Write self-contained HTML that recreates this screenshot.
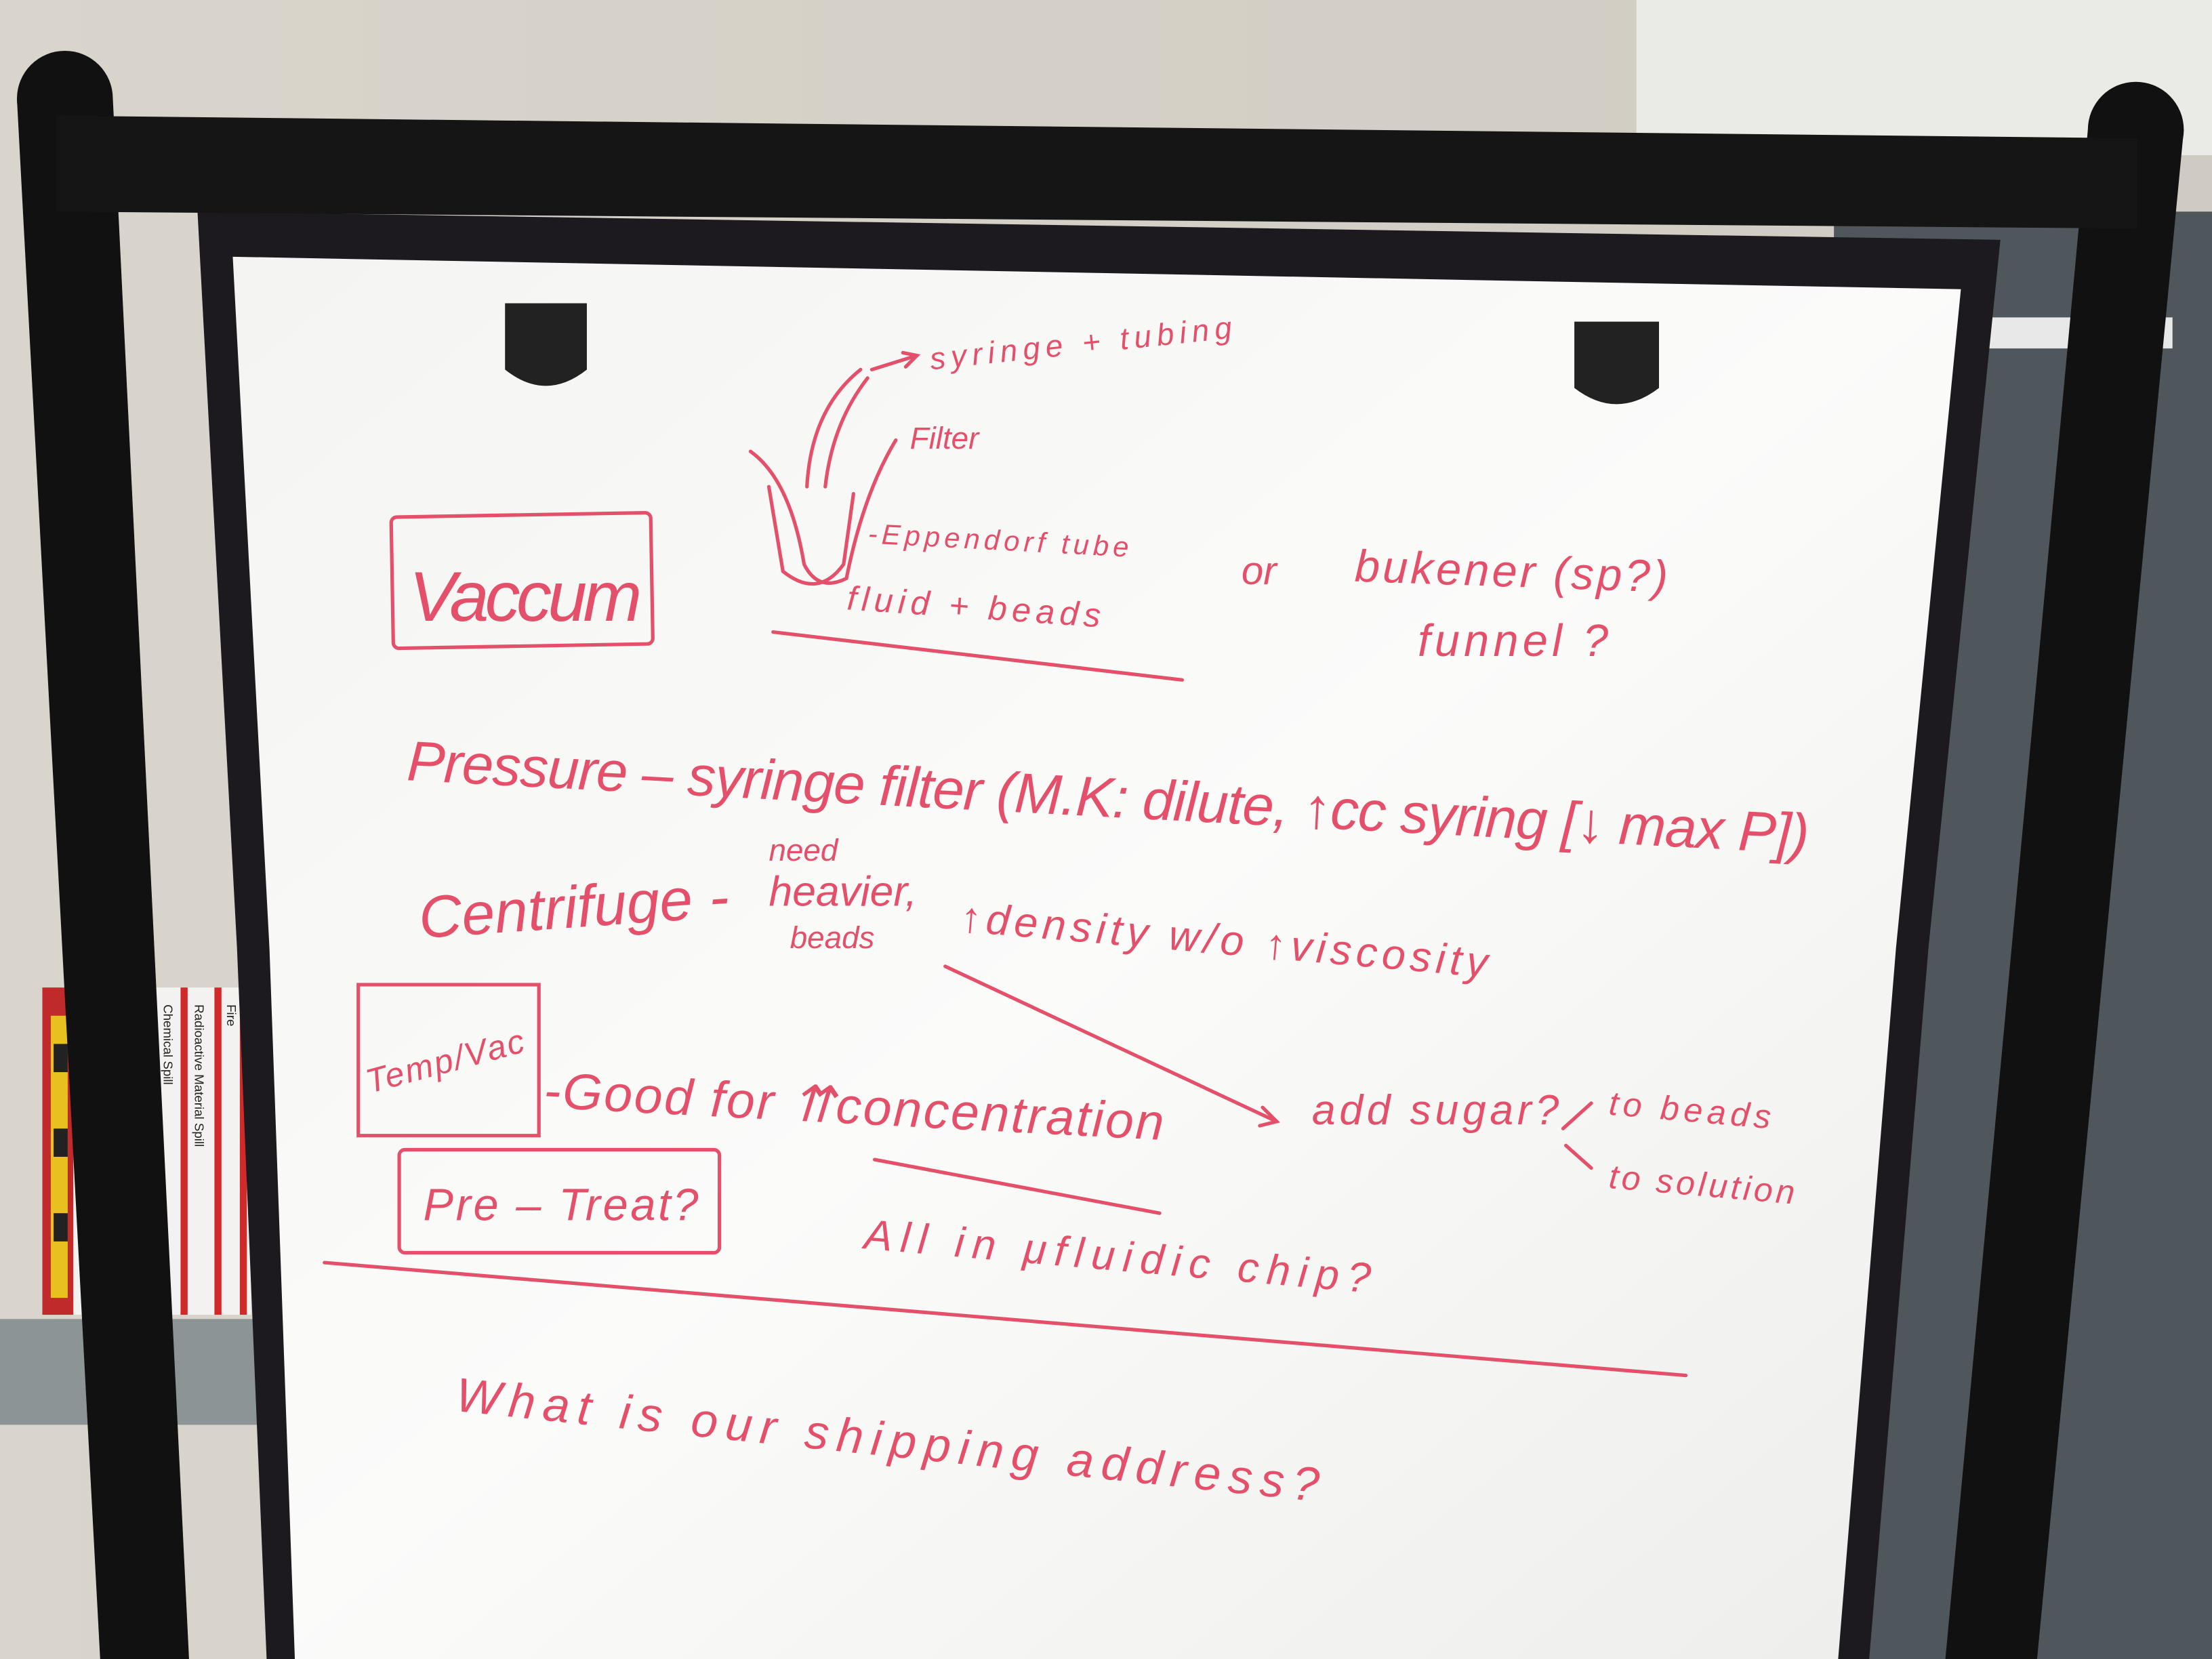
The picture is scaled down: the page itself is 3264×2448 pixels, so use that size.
<!DOCTYPE html>
<html><head><meta charset="utf-8">
<style>
html,body{margin:0;padding:0;width:3264px;height:2448px;overflow:hidden;background:#d6d2ca}
svg{display:block}
text{font-family:"Liberation Sans",sans-serif;fill:#e4506a;font-style:italic}
</style></head>
<body>
<svg width="3264" height="2448" viewBox="0 0 1568 1176" xmlns="http://www.w3.org/2000/svg">
<defs>
<linearGradient id="wall" x1="0" y1="0" x2="1" y2="0">
<stop offset="0" stop-color="#d9d5cc"/><stop offset="1" stop-color="#cfcbc2"/></linearGradient>
<linearGradient id="board" x1="0" y1="0" x2="1" y2="1">
<stop offset="0" stop-color="#f4f4f2"/><stop offset="0.5" stop-color="#fbfbfa"/><stop offset="1" stop-color="#ededeb"/></linearGradient>
</defs>
<rect width="1568" height="1176" fill="url(#wall)"/>
<rect x="1160" y="0" width="408" height="110" fill="#eaeae7"/>
<rect x="1300" y="150" width="268" height="1026" fill="#4f575d"/>
<rect x="1410" y="225" width="130" height="22" fill="#e8e8e8"/>
<rect x="0" y="935" width="190" height="75" fill="#8c9496"/>
<!-- sticker -->
<rect x="30" y="700" width="148" height="232" fill="#f4f2f0"/>
<rect x="30" y="700" width="22" height="232" fill="#c02a2a"/>
<rect x="36" y="720" width="12" height="200" fill="#e8c020"/>
<rect x="38" y="740" width="10" height="20" fill="#222"/>
<rect x="38" y="800" width="10" height="20" fill="#222"/>
<rect x="38" y="860" width="10" height="20" fill="#222"/>
<rect x="128" y="700" width="5" height="232" fill="#d02a2a"/>
<rect x="152" y="700" width="5" height="232" fill="#d02a2a"/>
<rect x="170" y="700" width="5" height="232" fill="#d02a2a"/>
<g font-size="9">
<text x="0" y="0" transform="translate(116,712) rotate(90)" style="fill:#222;font-style:normal">Chemical Spill</text>
<text x="0" y="0" transform="translate(138,712) rotate(90)" style="fill:#222;font-style:normal">Radioactive Material Spill</text>
<text x="0" y="0" transform="translate(161,712) rotate(90)" style="fill:#222;font-style:normal">Fire</text>
</g>
<!-- board frame -->
<polygon points="140,150 1418,170 1367,672 1325,1176 189,1176 168,672" fill="#1c1a1f"/>
<polygon points="165,182 1390,205 1344,672 1303,1176 209,1176 191,672" fill="url(#board)"/>
<!-- clips -->
<path d="M358,215 L416,215 L416,262 Q387,285 358,262 Z" fill="#222"/>
<path d="M1116,228 L1176,228 L1176,275 Q1146,298 1116,275 Z" fill="#222"/>
<!-- posts -->
<polygon points="12,70 80,70 134,1176 71,1176" fill="#111"/>
<circle cx="46" cy="70" r="34" fill="#111"/>
<polygon points="1480,92 1548,92 1444,1176 1379,1176" fill="#111"/>
<circle cx="1514" cy="92" r="34" fill="#111"/>
<polygon points="40,82 1515,98 1515,162 40,150" fill="#151515"/>
<!-- drawings -->
<g stroke="#e4506a" stroke-width="2.5" fill="none" stroke-linecap="round">
<rect x="278" y="365" width="184" height="93" rx="4" transform="rotate(-1 370 410)"/>
<line x1="548" y1="448" x2="838" y2="482"/>
<path d="M532,320 Q560,340 570,400 Q580,420 600,410 Q612,350 635,312"/>
<path d="M545,345 L555,405 Q580,425 598,400 L605,350"/>
<path d="M572,345 Q575,290 610,262 M585,345 Q590,300 615,268"/>
<path d="M618,262 L650,252 M640,250 L650,252 L642,260"/>
<line x1="670" y1="685" x2="905" y2="795"/>
<path d="M895,785 L905,795 L893,798"/>
<rect x="254" y="698" width="128" height="107"/>
<rect x="283" y="815" width="227" height="73" rx="4"/>
<line x1="620" y1="822" x2="822" y2="860"/>
<line x1="230" y1="895" x2="1195" y2="975"/>
<line x1="1108" y1="800" x2="1128" y2="782"/>
<line x1="1110" y1="812" x2="1128" y2="828"/>
</g>
<text x="660" y="262" font-size="22" transform="rotate(-6 660 262)" textLength="215">syringe + tubing</text>
<text x="645" y="318" font-size="22">Filter</text>
<text x="615" y="385" font-size="20" transform="rotate(3 615 385)" textLength="185">-Eppendorf tube</text>
<text x="600" y="432" font-size="24" transform="rotate(4 600 432)" textLength="180">fluid + beads</text>
<text x="290" y="440" font-size="50" textLength="165">Vaccum</text>
<text x="880" y="414" font-size="28">or</text>
<text x="960" y="412" font-size="32" transform="rotate(2 960 412)" textLength="222">bukener (sp?)</text>
<text x="1005" y="465" font-size="32" textLength="135">funnel ?</text>
<text x="288" y="553" font-size="40" transform="rotate(3 288 553)" textLength="995">Pressure – syringe filter (M.K: dilute, ↑cc syring [↓ max P])</text>
<text x="545" y="610" font-size="22">need</text>
<text x="298" y="665" font-size="42" transform="rotate(-4 298 665)" textLength="220">Centrifuge -</text>
<text x="545" y="642" font-size="30" textLength="105">heavier,</text>
<text x="560" y="672" font-size="22">beads</text>
<text x="680" y="660" font-size="30" transform="rotate(5 680 660)" textLength="375">↑density w/o ↑viscosity</text>
<text x="262" y="775" font-size="24" transform="rotate(-15 262 775)" textLength="115">Temp/Vac</text>
<text x="385" y="785" font-size="36" transform="rotate(3 385 785)" textLength="440">-Good for ⇈concentration</text>
<text x="930" y="797" font-size="30" textLength="175">add sugar?</text>
<text x="1140" y="790" font-size="24" transform="rotate(5 1140 790)" textLength="115">to beads</text>
<text x="1140" y="842" font-size="24" transform="rotate(5 1140 842)" textLength="132">to solution</text>
<text x="300" y="865" font-size="32" textLength="195">Pre – Treat?</text>
<text x="612" y="885" font-size="30" transform="rotate(5 612 885)" textLength="360">All  in  μfluidic chip?</text>
<text x="322" y="1000" font-size="34" transform="rotate(6 322 1000)" textLength="615">What is our shipping address?</text>
</svg>
</body></html>
